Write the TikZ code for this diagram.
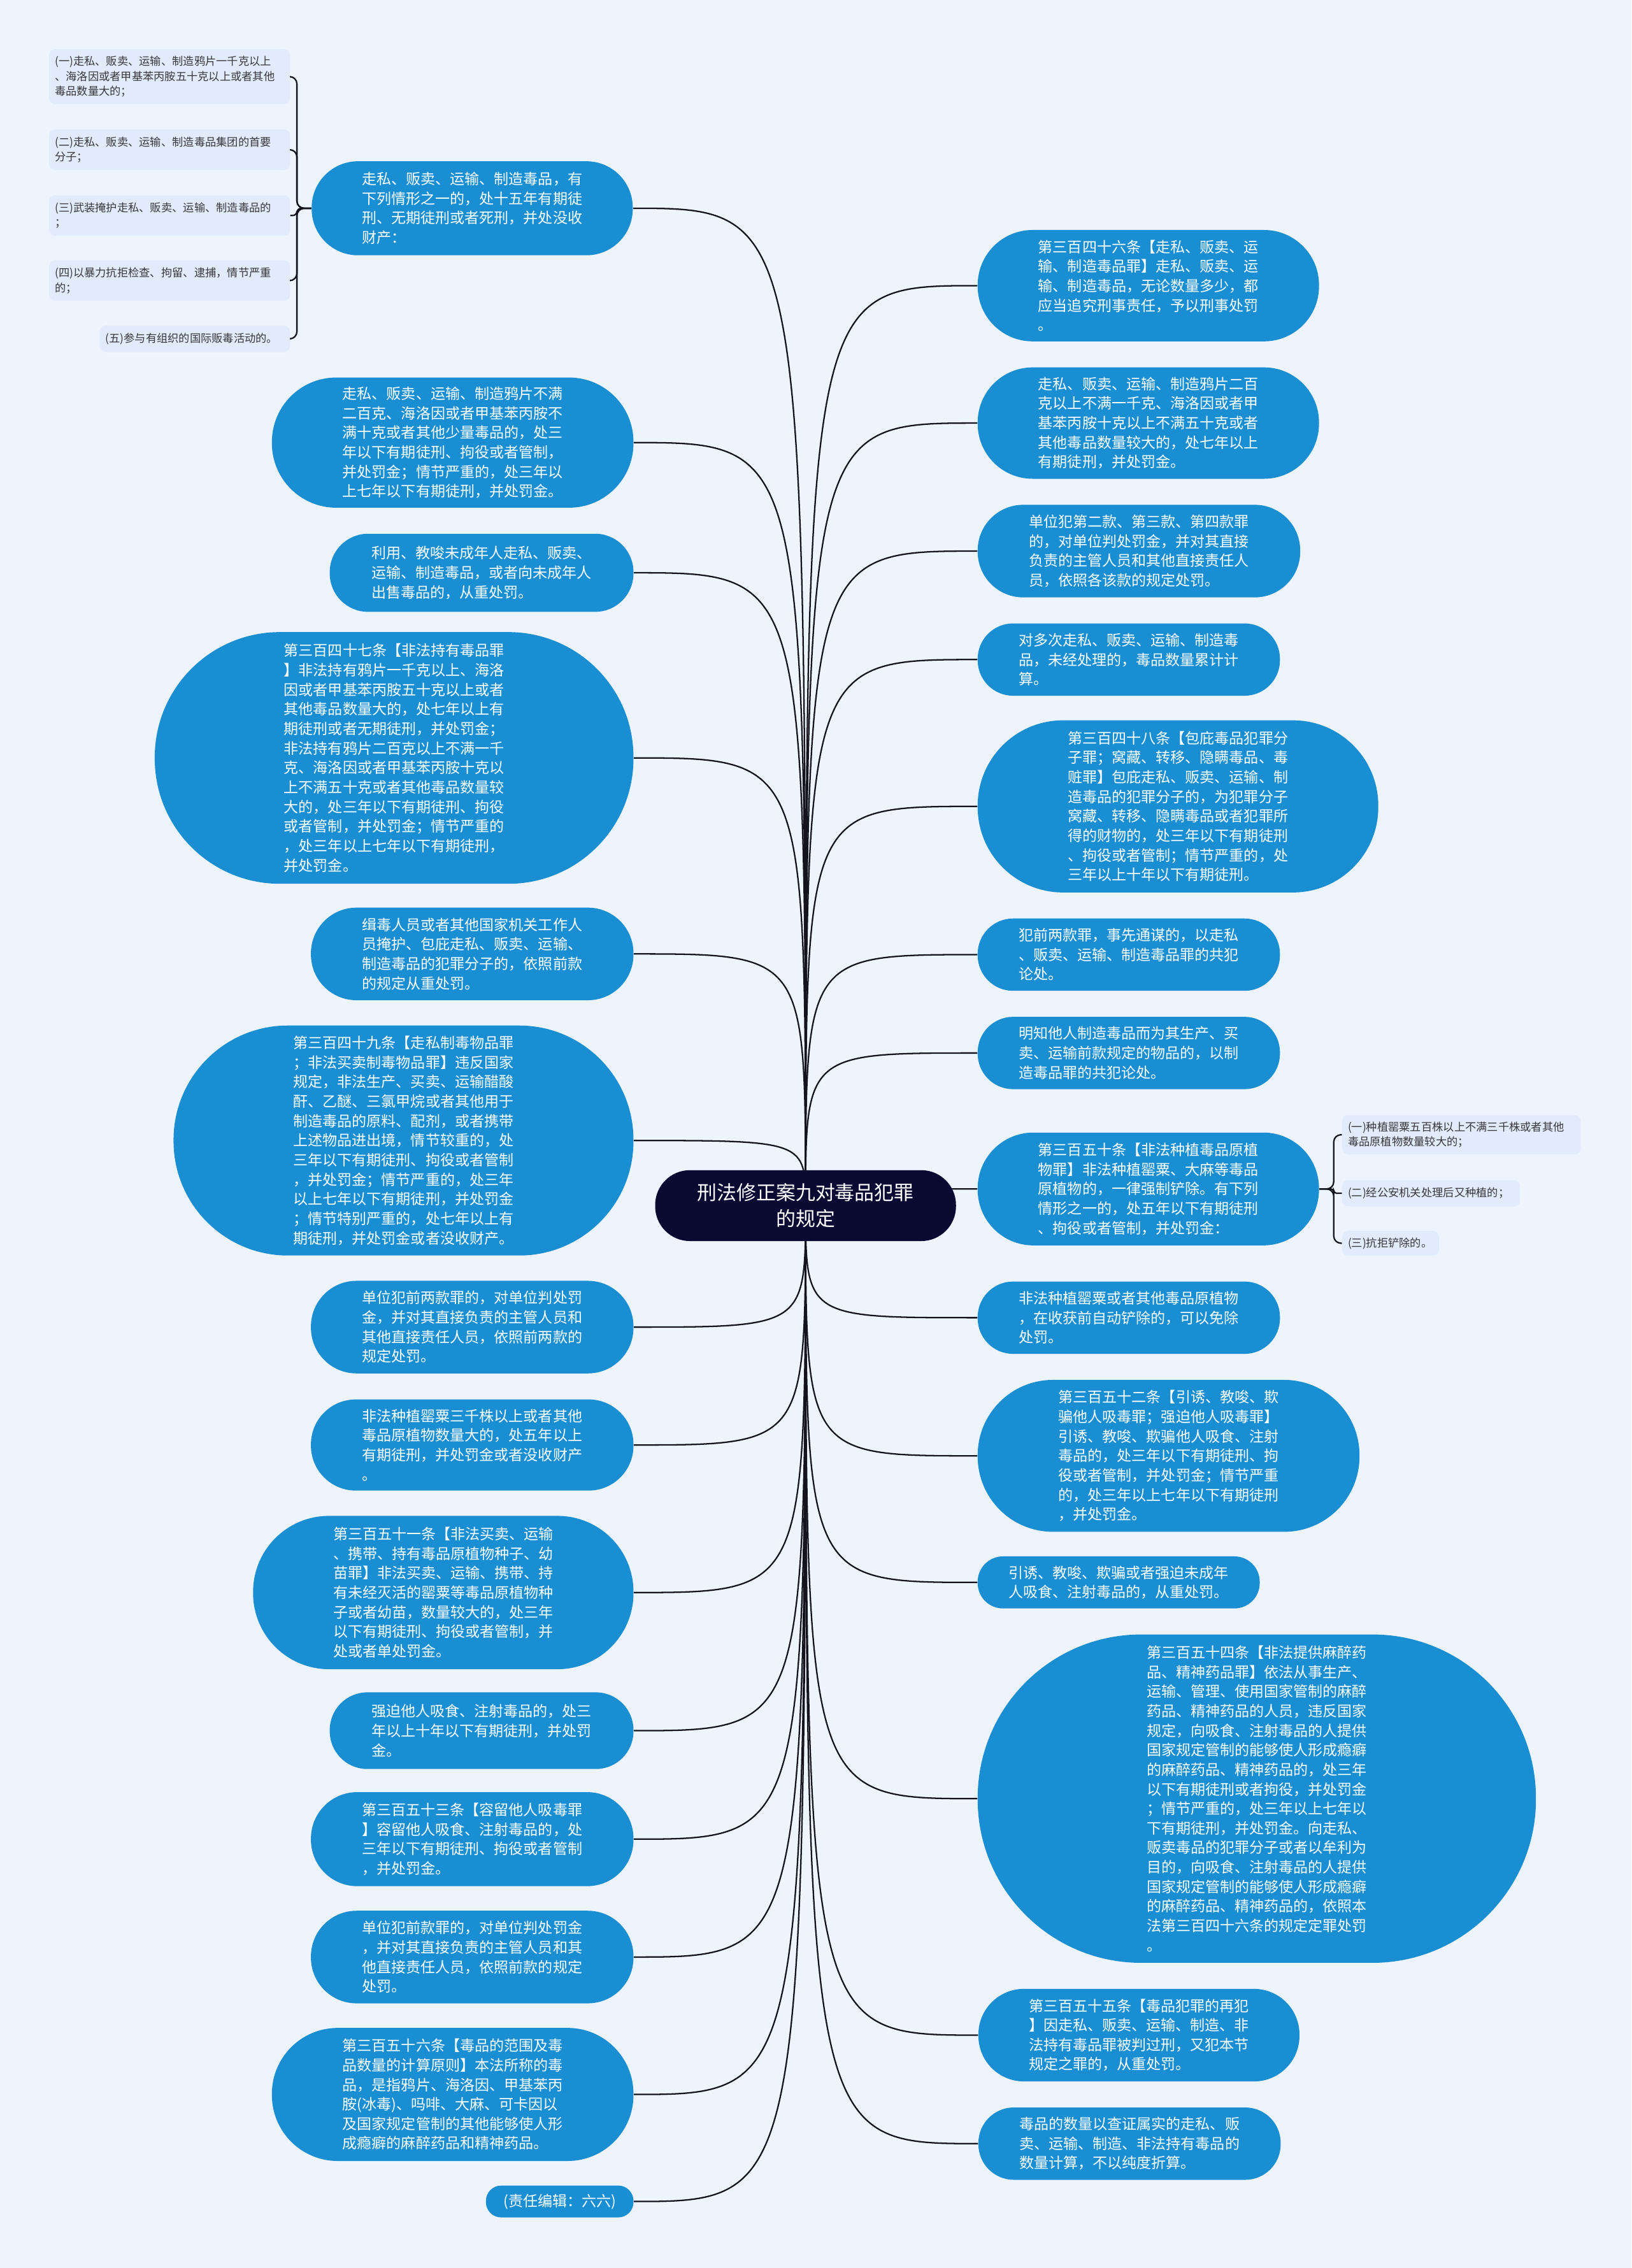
\documentclass[tikz,border=0pt]{standalone}
\usepackage{fontspec}
\setmainfont{Noto Sans CJK SC}
\usetikzlibrary{backgrounds}
\definecolor{paper}{RGB}{238,244,254}
\definecolor{pillblue}{RGB}{26,142,210}
\definecolor{hubnavy}{RGB}{11,10,50}
\definecolor{notefill}{RGB}{226,235,251}
\definecolor{notetext}{RGB}{55,55,60}
\definecolor{linkcol}{RGB}{20,20,30}
\tikzset{
  pill/.style={rectangle, fill=pillblue, text=white, align=left, inner sep=0pt,
    font=\fontsize{10.15}{13.5}\selectfont},
  hub/.style={rectangle, fill=hubnavy, text=white, align=center, inner sep=0pt,
    font=\fontsize{13.6}{18}\selectfont},
  note/.style={rectangle, rounded corners=4pt, fill=notefill, text=notetext, align=left,
    inner xsep=4pt, inner ysep=0pt, font=\fontsize{7.6}{10.3}\selectfont},
  wire/.style={draw=linkcol, line width=1pt},
}

\begin{document}
\begin{tikzpicture}[x=1pt,y=-1pt]
\useasboundingbox (0,0) rectangle (1128,1568);
% ---------- centre ----------
\node[hub, minimum width=208, minimum height=49, rounded corners=24] (hub) at (557,833.5) {刑法修正案九对毒品犯罪\\的规定};
% ---------- left branches ----------
\node[pill, minimum width=222, minimum height=65, rounded corners=32] (l1) at (326.5,144) {走私、贩卖、运输、制造毒品，有\\下列情形之一的，处十五年有期徒\\刑、无期徒刑或者死刑，并处没收\\财产：};
\node[pill, minimum width=250, minimum height=90, rounded corners=44.5] (l2) at (313,306) {走私、贩卖、运输、制造鸦片不满\\二百克、海洛因或者甲基苯丙胺不\\满十克或者其他少量毒品的，处三\\年以下有期徒刑、拘役或者管制，\\并处罚金；情节严重的，处三年以\\上七年以下有期徒刑，并处罚金。};
\node[pill, minimum width=210, minimum height=54, rounded corners=26.5] (l3) at (333,396) {利用、教唆未成年人走私、贩卖、\\运输、制造毒品，或者向未成年人\\出售毒品的，从重处罚。};
\node[pill, minimum width=331, minimum height=174, rounded corners=86.5] (l4) at (272.5,524) {第三百四十七条【非法持有毒品罪\\】非法持有鸦片一千克以上、海洛\\因或者甲基苯丙胺五十克以上或者\\其他毒品数量大的，处七年以上有\\期徒刑或者无期徒刑，并处罚金；\\非法持有鸦片二百克以上不满一千\\克、海洛因或者甲基苯丙胺十克以\\上不满五十克或者其他毒品数量较\\大的，处三年以下有期徒刑、拘役\\或者管制，并处罚金；情节严重的\\，处三年以上七年以下有期徒刑，\\并处罚金。};
\node[pill, minimum width=223, minimum height=64, rounded corners=31.5] (l5) at (326.5,659.5) {缉毒人员或者其他国家机关工作人\\员掩护、包庇走私、贩卖、运输、\\制造毒品的犯罪分子的，依照前款\\的规定从重处罚。};
\node[pill, minimum width=318, minimum height=159, rounded corners=79] (l6) at (279,788.5) {第三百四十九条【走私制毒物品罪\\；非法买卖制毒物品罪】违反国家\\规定，非法生产、买卖、运输醋酸\\酐、乙醚、三氯甲烷或者其他用于\\制造毒品的原料、配剂，或者携带\\上述物品进出境，情节较重的，处\\三年以下有期徒刑、拘役或者管制\\，并处罚金；情节严重的，处三年\\以上七年以下有期徒刑，并处罚金\\；情节特别严重的，处七年以上有\\期徒刑，并处罚金或者没收财产。};
\node[pill, minimum width=223, minimum height=64, rounded corners=31.5] (l7) at (326.5,917.5) {单位犯前两款罪的，对单位判处罚\\金，并对其直接负责的主管人员和\\其他直接责任人员，依照前两款的\\规定处罚。};
\node[pill, minimum width=223, minimum height=63, rounded corners=31] (l8) at (326.5,999) {非法种植罂粟三千株以上或者其他\\毒品原植物数量大的，处五年以上\\有期徒刑，并处罚金或者没收财产\\。};
\node[pill, minimum width=263, minimum height=106, rounded corners=52.5] (l9) at (306.5,1101) {第三百五十一条【非法买卖、运输\\、携带、持有毒品原植物种子、幼\\苗罪】非法买卖、运输、携带、持\\有未经灭活的罂粟等毒品原植物种\\子或者幼苗，数量较大的，处三年\\以下有期徒刑、拘役或者管制，并\\处或者单处罚金。};
\node[pill, minimum width=210, minimum height=53, rounded corners=26] (l10) at (333,1196.5) {强迫他人吸食、注射毒品的，处三\\年以上十年以下有期徒刑，并处罚\\金。};
\node[pill, minimum width=223, minimum height=65, rounded corners=32] (l11) at (326.5,1271.5) {第三百五十三条【容留他人吸毒罪\\】容留他人吸食、注射毒品的，处\\三年以下有期徒刑、拘役或者管制\\，并处罚金。};
\node[pill, minimum width=223, minimum height=64, rounded corners=31.5] (l12) at (326.5,1353) {单位犯前款罪的，对单位判处罚金\\，并对其直接负责的主管人员和其\\他直接责任人员，依照前款的规定\\处罚。};
\node[pill, minimum width=250, minimum height=92, rounded corners=45.5] (l13) at (313,1448) {第三百五十六条【毒品的范围及毒\\品数量的计算原则】本法所称的毒\\品，是指鸦片、海洛因、甲基苯丙\\胺(冰毒)、吗啡、大麻、可卡因以\\及国家规定管制的其他能够使人形\\成瘾癖的麻醉药品和精神药品。};
\node[pill, minimum width=102, minimum height=22, rounded corners=10.5] (l14) at (387,1522) {(责任编辑：六六)};
% ---------- notes of l1 ----------
\node[note, text width=158.5, minimum height=38] (s1) at (117.25,53) {(一)走私、贩卖、运输、制造鸦片一千克以上\\、海洛因或者甲基苯丙胺五十克以上或者其他\\毒品数量大的；};
\node[note, text width=158.5, minimum height=28] (s2) at (117.25,103.5) {(二)走私、贩卖、运输、制造毒品集团的首要\\分子；};
\node[note, text width=158.5, minimum height=28] (s3) at (117.25,149) {(三)武装掩护走私、贩卖、运输、制造毒品的\\；};
\node[note, text width=158.5, minimum height=28] (s4) at (117.25,194) {(四)以暴力抗拒检查、拘留、逮捕，情节严重\\的；};
\node[note, text width=123.5, minimum height=18] (s5) at (134.75,234.25) {(五)参与有组织的国际贩毒活动的。};
% ---------- right branches ----------
\node[pill, minimum width=236, minimum height=77, rounded corners=38] (r1) at (794,197.5) {第三百四十六条【走私、贩卖、运\\输、制造毒品罪】走私、贩卖、运\\输、制造毒品，无论数量多少，都\\应当追究刑事责任，予以刑事处罚\\。};
\node[pill, minimum width=236, minimum height=77, rounded corners=38] (r2) at (794,292.5) {走私、贩卖、运输、制造鸦片二百\\克以上不满一千克、海洛因或者甲\\基苯丙胺十克以上不满五十克或者\\其他毒品数量较大的，处七年以上\\有期徒刑，并处罚金。};
\node[pill, minimum width=223, minimum height=64, rounded corners=31.5] (r3) at (787.5,381) {单位犯第二款、第三款、第四款罪\\的，对单位判处罚金，并对其直接\\负责的主管人员和其他直接责任人\\员，依照各该款的规定处罚。};
\node[pill, minimum width=209, minimum height=50, rounded corners=24.5] (r4) at (780.5,456) {对多次走私、贩卖、运输、制造毒\\品，未经处理的，毒品数量累计计\\算。};
\node[pill, minimum width=277, minimum height=119, rounded corners=59] (r5) at (814.5,557.5) {第三百四十八条【包庇毒品犯罪分\\子罪；窝藏、转移、隐瞒毒品、毒\\赃罪】包庇走私、贩卖、运输、制\\造毒品的犯罪分子的，为犯罪分子\\窝藏、转移、隐瞒毒品或者犯罪所\\得的财物的，处三年以下有期徒刑\\、拘役或者管制；情节严重的，处\\三年以上十年以下有期徒刑。};
\node[pill, minimum width=209, minimum height=50, rounded corners=24.5] (r6) at (780.5,660) {犯前两款罪，事先通谋的，以走私\\、贩卖、运输、制造毒品罪的共犯\\论处。};
\node[pill, minimum width=209, minimum height=50, rounded corners=24.5] (r7) at (780.5,728) {明知他人制造毒品而为其生产、买\\卖、运输前款规定的物品的，以制\\造毒品罪的共犯论处。};
\node[pill, minimum width=236, minimum height=78, rounded corners=38.5] (r8) at (794,822) {第三百五十条【非法种植毒品原植\\物罪】非法种植罂粟、大麻等毒品\\原植物的，一律强制铲除。有下列\\情形之一的，处五年以下有期徒刑\\、拘役或者管制，并处罚金：};
\node[pill, minimum width=209, minimum height=50, rounded corners=24.5] (r9) at (780.5,911) {非法种植罂粟或者其他毒品原植物\\，在收获前自动铲除的，可以免除\\处罚。};
\node[pill, minimum width=264, minimum height=105, rounded corners=52] (r10) at (808,1006.5) {第三百五十二条【引诱、教唆、欺\\骗他人吸毒罪；强迫他人吸毒罪】\\引诱、教唆、欺骗他人吸食、注射\\毒品的，处三年以下有期徒刑、拘\\役或者管制，并处罚金；情节严重\\的，处三年以上七年以下有期徒刑\\，并处罚金。};
\node[pill, minimum width=195, minimum height=36, rounded corners=17.5] (r11) at (773.5,1094) {引诱、教唆、欺骗或者强迫未成年\\人吸食、注射毒品的，从重处罚。};
\node[pill, minimum width=386, minimum height=227, rounded corners=113] (r12) at (869,1243.5) {第三百五十四条【非法提供麻醉药\\品、精神药品罪】依法从事生产、\\运输、管理、使用国家管制的麻醉\\药品、精神药品的人员，违反国家\\规定，向吸食、注射毒品的人提供\\国家规定管制的能够使人形成瘾癖\\的麻醉药品、精神药品的，处三年\\以下有期徒刑或者拘役，并处罚金\\；情节严重的，处三年以上七年以\\下有期徒刑，并处罚金。向走私、\\贩卖毒品的犯罪分子或者以牟利为\\目的，向吸食、注射毒品的人提供\\国家规定管制的能够使人形成瘾癖\\的麻醉药品、精神药品的，依照本\\法第三百四十六条的规定定罪处罚\\。};
\node[pill, minimum width=222, minimum height=64, rounded corners=31.5] (r13) at (787.5,1407) {第三百五十五条【毒品犯罪的再犯\\】因走私、贩卖、运输、制造、非\\法持有毒品罪被判过刑，又犯本节\\规定之罪的，从重处罚。};
\node[pill, minimum width=209, minimum height=50, rounded corners=24.5] (r14) at (781,1482) {毒品的数量以查证属实的走私、贩\\卖、运输、制造、非法持有毒品的\\数量计算，不以纯度折算。};
% ---------- notes of r8 ----------
\node[note, text width=157, minimum height=27] (t1) at (1010.5,784.5) {(一)种植罂粟五百株以上不满三千株或者其他\\毒品原植物数量较大的；};
\node[note, text width=115, minimum height=18] (t2) at (989.5,825) {(二)经公安机关处理后又种植的；};
\node[note, text width=59, minimum height=17] (t3) at (961.5,859.5) {(三)抗拒铲除的。};
% ---------- connectors ----------
\begin{scope}[on background layer]
\fill[paper] (0,0) rectangle (1128,1568);
\draw[wire] (hub.center) .. controls (hub.center |- l1.east) .. (l1.east);
\draw[wire] (hub.center) .. controls (hub.center |- l2.east) .. (l2.east);
\draw[wire] (hub.center) .. controls (hub.center |- l3.east) .. (l3.east);
\draw[wire] (hub.center) .. controls (hub.center |- l4.east) .. (l4.east);
\draw[wire] (hub.center) .. controls (hub.center |- l5.east) .. (l5.east);
\draw[wire] (hub.center) .. controls (hub.center |- l6.east) .. (l6.east);
\draw[wire] (hub.center) .. controls (hub.center |- l7.east) .. (l7.east);
\draw[wire] (hub.center) .. controls (hub.center |- l8.east) .. (l8.east);
\draw[wire] (hub.center) .. controls (hub.center |- l9.east) .. (l9.east);
\draw[wire] (hub.center) .. controls (hub.center |- l10.east) .. (l10.east);
\draw[wire] (hub.center) .. controls (hub.center |- l11.east) .. (l11.east);
\draw[wire] (hub.center) .. controls (hub.center |- l12.east) .. (l12.east);
\draw[wire] (hub.center) .. controls (hub.center |- l13.east) .. (l13.east);
\draw[wire] (hub.center) .. controls (hub.center |- l14.east) .. (l14.east);
\draw[wire] (hub.center) .. controls (hub.center |- r1.west) .. (r1.west);
\draw[wire] (hub.center) .. controls (hub.center |- r2.west) .. (r2.west);
\draw[wire] (hub.center) .. controls (hub.center |- r3.west) .. (r3.west);
\draw[wire] (hub.center) .. controls (hub.center |- r4.west) .. (r4.west);
\draw[wire] (hub.center) .. controls (hub.center |- r5.west) .. (r5.west);
\draw[wire] (hub.center) .. controls (hub.center |- r6.west) .. (r6.west);
\draw[wire] (hub.center) .. controls (hub.center |- r7.west) .. (r7.west);
\draw[wire] (hub.center) .. controls (hub.center |- r8.west) .. (r8.west);
\draw[wire] (hub.center) .. controls (hub.center |- r9.west) .. (r9.west);
\draw[wire] (hub.center) .. controls (hub.center |- r10.west) .. (r10.west);
\draw[wire] (hub.center) .. controls (hub.center |- r11.west) .. (r11.west);
\draw[wire] (hub.center) .. controls (hub.center |- r12.west) .. (r12.west);
\draw[wire] (hub.center) .. controls (hub.center |- r13.west) .. (r13.west);
\draw[wire] (hub.center) .. controls (hub.center |- r14.west) .. (r14.west);
% brackets to the notes
\draw[wire, rounded corners=5pt] (l1.west) -- ++(-10,0) |- (s1.east);
\draw[wire, rounded corners=5pt] (l1.west) -- ++(-10,0) |- (s2.east);
\draw[wire, rounded corners=3pt] (l1.west) -- ++(-10,0) |- (s3.east);
\draw[wire, rounded corners=5pt] (l1.west) -- ++(-10,0) |- (s4.east);
\draw[wire, rounded corners=5pt] (l1.west) -- ++(-10,0) |- (s5.east);
\draw[wire, rounded corners=5pt] (r8.east) -- ++(10,0) |- (t1.west);
\draw[wire, rounded corners=2pt] (r8.east) -- ++(10,0) |- (t2.west);
\draw[wire, rounded corners=5pt] (r8.east) -- ++(10,0) |- (t3.west);
\end{scope}
\end{tikzpicture}
\end{document}
